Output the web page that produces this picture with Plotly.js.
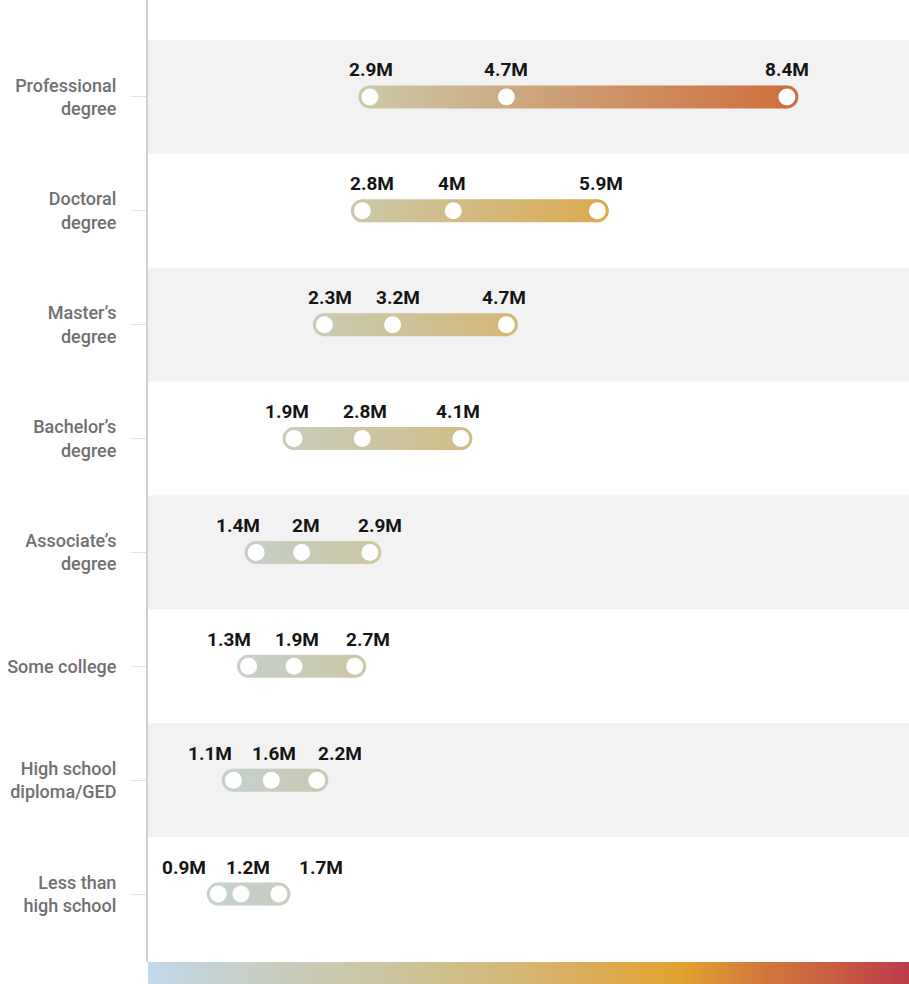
<!DOCTYPE html>
<html>
<head>
<meta charset="utf-8">
<script src="https://cdn.plot.ly/plotly-3.0.1.min.js"></script>
<style>
  html, body { margin: 0; padding: 0; background: #fff; }
  #chart { width: 909px; height: 984px; }
</style>
</head>
<body>
<div id="chart"></div>
<script>
// ---- data ----
const categories = ["Professional degree", "Doctoral degree", "Master’s degree", "Bachelor’s degree",
  "Associate’s degree", "Some college", "High school diploma/GED", "Less than high school"];
const tickLabels = ["Professional<br>degree", "Doctoral<br>degree", "Master’s<br>degree", "Bachelor’s<br>degree",
  "Associate’s<br>degree", "Some college", "High school<br>diploma/GED", "Less than<br>high school"];
const lowValues  = [2.9, 2.8, 2.3, 1.9, 1.4, 1.3, 1.1, 0.9];
const midValues  = [4.7, 4.0, 3.2, 2.8, 2.0, 1.9, 1.6, 1.2];
const highValues = [8.4, 5.9, 4.7, 4.1, 2.9, 2.7, 2.2, 1.7];
const lowLabels  = ["2.9M", "2.8M", "2.3M", "1.9M", "1.4M", "1.3M", "1.1M", "0.9M"];
const midLabels  = ["4.7M", "4M", "3.2M", "2.8M", "2M", "1.9M", "1.6M", "1.2M"];
const highLabels = ["8.4M", "5.9M", "4.7M", "4.1M", "2.9M", "2.7M", "2.2M", "1.7M"];

// ---- styling ----
const labelShiftLow  = [1, 10, 6, -7, -18, -20, -23, -34];
const labelShiftMid  = [0, -1, 5, 3, 4, 3, 3, 7];
const labelShiftHigh = [0, 4, -2, -3, 10, 13, 23, 42];
const colorscale = [
  [0.00, '#c2d8ec'], [0.07, '#c3d2d6'], [0.13, '#c6cfc8'], [0.20, '#c9cbb8'],
  [0.30, '#ccc6a2'], [0.40, '#cfbf8a'], [0.50, '#d5b572'], [0.60, '#dcaa50'],
  [0.70, '#e2a230'], [0.80, '#d27a3a'], [0.90, '#c85e42'], [1.00, '#bb3c4a']
];
const SCALE_MIN = 0, SCALE_MAX = 10;
const ROW_PX = 113.87;
const CAP_PX = 23;
const halfH = (CAP_PX / 2) / ROW_PX;

function hexToRgb(h) { return [1, 3, 5].map(k => parseInt(h.substr(k, 2), 16)); }
function colorAt(v) {
  const t = Math.max(0, Math.min(1, (v - SCALE_MIN) / (SCALE_MAX - SCALE_MIN)));
  for (let k = 1; k < colorscale.length; k++) {
    if (t <= colorscale[k][0]) {
      const [t0, c0] = colorscale[k - 1], [t1, c1] = colorscale[k];
      const f = (t - t0) / (t1 - t0);
      const a = hexToRgb(c0), b = hexToRgb(c1);
      return 'rgb(' + a.map((x, j) => Math.round(x + (b[j] - x) * f)).join(',') + ')';
    }
  }
  return colorscale[colorscale.length - 1][1];
}

const rows = categories.map((c, i) => i);
const traces = [];

// capsule bodies: gradient between the colours of the two ends
rows.forEach(i => {
  traces.push({
    type: 'scatter', mode: 'none',
    x: [lowValues[i], highValues[i], highValues[i], lowValues[i]],
    y: [i - halfH, i - halfH, i + halfH, i + halfH],
    fill: 'toself',
    fillgradient: {
      type: 'horizontal', start: lowValues[i], stop: highValues[i],
      colorscale: [[0, colorAt(lowValues[i])], [1, colorAt(highValues[i])]]
    },
    hoverinfo: 'skip', showlegend: false
  });
});

// rounded caps, coloured by the same scale (and providing the colour bar)
const capX = lowValues.concat(highValues);
const capY = rows.concat(rows);
traces.push({
  type: 'scatter', mode: 'markers', x: capX, y: capY,
  marker: {
    size: CAP_PX, color: capX, colorscale: colorscale, cmin: SCALE_MIN, cmax: SCALE_MAX,
    line: { width: 0 },
    showscale: true,
    colorbar: {
      orientation: 'h', x: 0, xanchor: 'left', xref: 'paper',
      y: 0, yanchor: 'top', yref: 'paper',
      len: 1, lenmode: 'fraction', thickness: 22, thicknessmode: 'pixels',
      xpad: 0, ypad: 0, outlinewidth: 0, showticklabels: false, ticks: ''
    }
  },
  hoverinfo: 'skip', showlegend: false
});

// white dots
const dotX = lowValues.concat(midValues, highValues);
const dotY = rows.concat(rows, rows);
traces.push({
  type: 'scatter', mode: 'markers', x: dotX, y: dotY,
  marker: { size: 17, color: '#ffffff', line: { width: 0 } },
  hoverinfo: 'skip', showlegend: false
});

// value labels
const annotations = [];
function addLabels(vals, labels, shifts) {
  vals.forEach((v, i) => {
    annotations.push({
      x: v, y: i, xref: 'x', yref: 'y', text: labels[i], showarrow: false,
      xanchor: 'center', yanchor: 'middle', yshift: 27, xshift: shifts[i],
      font: { family: 'Roboto, Arial, sans-serif', size: 19, weight: 700, color: '#151515' }
    });
  });
}
addLabels(lowValues, lowLabels, labelShiftLow);
addLabels(midValues, midLabels, labelShiftMid);
addLabels(highValues, highLabels, labelShiftHigh);

// alternating bands
const shapes = rows.filter(i => i % 2 === 0).map(i => ({
  type: 'rect', xref: 'paper', yref: 'y', x0: 0, x1: 1, y0: i - 0.5, y1: i + 0.5,
  fillcolor: '#f2f2f2', line: { width: 0 }, layer: 'below'
}));

const layout = {
  width: 909, height: 984,
  margin: { l: 148, r: 0, t: 0, b: 22, pad: 0 },
  paper_bgcolor: '#ffffff', plot_bgcolor: '#ffffff',
  showlegend: false,
  xaxis: {
    range: [-0.026, 10.01], showgrid: false, zeroline: false, showticklabels: false,
    ticks: '', showline: false, fixedrange: true
  },
  yaxis: {
    range: [7.597, -0.851], tickmode: 'array', tickvals: rows, ticktext: tickLabels,
    showgrid: false, zeroline: false, showline: true, linecolor: '#cfcfcf', linewidth: 2,
    ticks: 'outside', ticklen: 15, tickwidth: 1, tickcolor: '#e3e3e3',
    ticklabelstandoff: 11,
    tickfont: { family: 'Roboto, Arial, sans-serif', size: 18, weight: 500, color: '#707070' },
    fixedrange: true
  },
  shapes: shapes,
  annotations: annotations
};

Plotly.newPlot('chart', traces, layout, { displayModeBar: false, staticPlot: true });
</script>
</body>
</html>
